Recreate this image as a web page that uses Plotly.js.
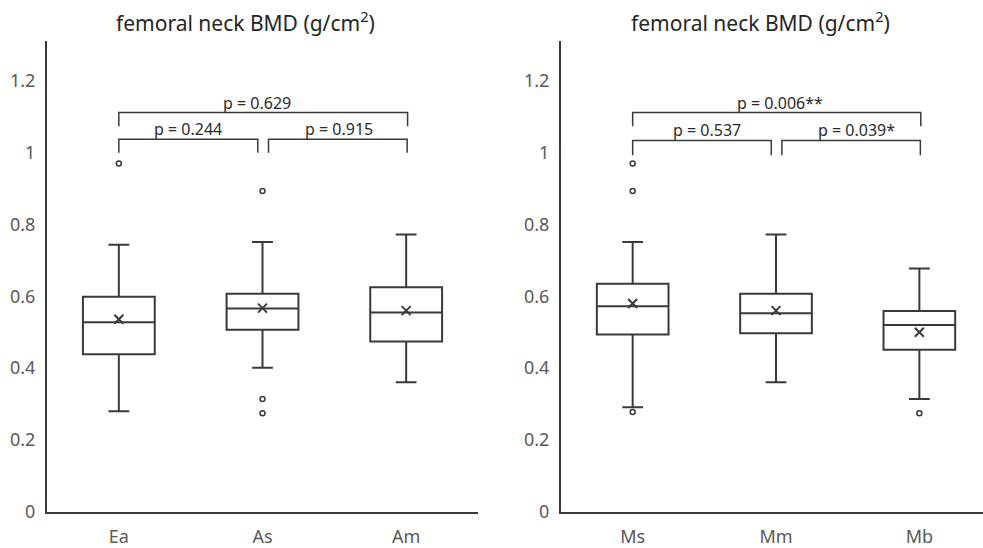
<!DOCTYPE html>
<html><head><meta charset="utf-8">
<script src="https://cdn.plot.ly/plotly-3.0.1.min.js"></script>
<style>html,body{margin:0;padding:0;background:#fff}#chart{width:983px;height:548px}</style>
</head><body><div id="chart"></div>
<script>
// ---- data ----
const leftCats   = ['Ea', 'As', 'Am'];
const leftLower  = [0.280, 0.401, 0.361];
const leftQ1     = [0.439, 0.507, 0.474];
const leftMedian = [0.528, 0.566, 0.555];
const leftQ3     = [0.599, 0.607, 0.625];
const leftUpper  = [0.743, 0.751, 0.772];
const leftMean   = [0.536, 0.567, 0.560];
const leftOutX   = [0, 1, 1, 1];
const leftOutY   = [0.969, 0.893, 0.314, 0.275];

const rightCats   = ['Ms', 'Mm', 'Mb'];
const rightLower  = [0.291, 0.361, 0.314];
const rightQ1     = [0.494, 0.497, 0.451];
const rightMedian = [0.572, 0.553, 0.520];
const rightQ3     = [0.635, 0.607, 0.559];
const rightUpper  = [0.751, 0.772, 0.677];
const rightMean   = [0.580, 0.560, 0.500];
const rightOutX   = [0, 0, 0, 2];
const rightOutY   = [0.969, 0.893, 0.278, 0.275];

// significance brackets: [x0, x1, yBar, yEnd]
const leftBrackets  = [[0, 2.01, 1.111, 1.073], [0, 0.967, 1.037, 0.999], [1.042, 2.007, 1.037, 0.999]];
const rightBrackets = [[0, 2.01, 1.111, 1.073], [0, 0.967, 1.033, 0.992], [1.041, 2.007, 1.033, 0.992]];
const leftPText  = ['p = 0.629', 'p = 0.244', 'p = 0.915'];
const leftPX     = [0.965, 0.482, 1.535];
const leftPY     = [1.138, 1.064, 1.064];
const rightPText = ['p = 0.006**', 'p = 0.537', 'p = 0.039*'];
const rightPX    = [1.03, 0.518, 1.56];
const rightPY    = [1.138, 1.062, 1.062];
const panelTitle = 'femoral neck BMD (g/cm<sup>2</sup>)';
const yTicks = [0, 0.2, 0.4, 0.6, 0.8, 1, 1.2];

// ---- styling ----
const LINE = '#3a3a3a';
const FONT = 'Noto Sans, sans-serif';
const positions = [0, 1, 2];

function boxTrace(xa, ya, lower, q1, med, q3, upper) {
  return {
    type: 'box', xaxis: xa, yaxis: ya, x: positions,
    lowerfence: lower, q1: q1, median: med, q3: q3, upperfence: upper,
    width: 0.5, whiskerwidth: 0.29, boxpoints: false,
    line: {color: LINE, width: 2}, fillcolor: 'rgba(255,255,255,0)',
    hoverinfo: 'skip', showlegend: false
  };
}
function meanTrace(xa, ya, mean) {
  return {type: 'scatter', mode: 'markers', xaxis: xa, yaxis: ya, x: positions, y: mean,
    marker: {symbol: 'x-thin-open', size: 9, color: LINE, line: {color: LINE, width: 2}},
    showlegend: false, hoverinfo: 'skip'};
}
function outTrace(xa, ya, ox, oy) {
  return {type: 'scatter', mode: 'markers', xaxis: xa, yaxis: ya, x: ox, y: oy,
    marker: {symbol: 'circle-open', size: 5, color: LINE, line: {color: LINE, width: 1.5}},
    showlegend: false, hoverinfo: 'skip'};
}
function bracketTraces(xa, ya, brs) {
  return brs.map(b => ({type: 'scatter', mode: 'lines', xaxis: xa, yaxis: ya,
    x: [b[0], b[0], b[1], b[1]], y: [b[3], b[2], b[2], b[3]],
    line: {color: LINE, width: 1.5}, showlegend: false, hoverinfo: 'skip'}));
}

const data = [
  boxTrace('x', 'y', leftLower, leftQ1, leftMedian, leftQ3, leftUpper),
  meanTrace('x', 'y', leftMean),
  outTrace('x', 'y', leftOutX, leftOutY),
  ...bracketTraces('x', 'y', leftBrackets),
  boxTrace('x2', 'y2', rightLower, rightQ1, rightMedian, rightQ3, rightUpper),
  meanTrace('x2', 'y2', rightMean),
  outTrace('x2', 'y2', rightOutX, rightOutY),
  ...bracketTraces('x2', 'y2', rightBrackets)
];

const pAnn = (xr, yr, texts, xs, ys) => texts.map((t, i) => ({
  xref: xr, yref: yr, x: xs[i], y: ys[i], text: t, showarrow: false,
  xanchor: 'center', yanchor: 'middle', font: {family: FONT, size: 16, color: '#2a2a2a'}
}));

const xBase = {
  showgrid: false, zeroline: false, showline: true, linecolor: LINE, linewidth: 2,
  ticks: '', tickvals: positions, tickfont: {family: FONT, size: 18, color: '#595959'},
  ticklabelstandoff: 7, fixedrange: true
};
const yBase = {
  showgrid: false, zeroline: false, showline: true, linecolor: LINE, linewidth: 2,
  ticks: '', tickvals: yTicks, ticktext: yTicks.map(String), range: [0, 1.31],
  tickfont: {family: FONT, size: 18, color: '#595959'}, ticklabelstandoff: 6, fixedrange: true
};

const layout = {
  width: 983, height: 548,
  margin: {l: 0, r: 0, t: 41, b: 36},
  paper_bgcolor: '#fff', plot_bgcolor: '#fff',
  showlegend: false,
  xaxis:  Object.assign({}, xBase, {domain: [47/983, 478/983], range: [-0.5, 2.5], ticktext: leftCats, anchor: 'y'}),
  yaxis:  Object.assign({}, yBase, {domain: [0, 1], anchor: 'x'}),
  xaxis2: Object.assign({}, xBase, {domain: [561/983, 1], range: [-0.5, 2.444], ticktext: rightCats, anchor: 'y2'}),
  yaxis2: Object.assign({}, yBase, {domain: [0, 1], anchor: 'x2'}),
  annotations: [
    {xref: 'paper', yref: 'paper', x: 246/983, y: 1, yshift: 20, text: panelTitle, showarrow: false,
     xanchor: 'center', yanchor: 'middle', font: {family: FONT, size: 21, color: '#262626'}},
    {xref: 'paper', yref: 'paper', x: 760/983, y: 1, yshift: 20, text: panelTitle, showarrow: false,
     xanchor: 'center', yanchor: 'middle', font: {family: FONT, size: 21, color: '#262626'}},
    ...pAnn('x', 'y', leftPText, leftPX, leftPY),
    ...pAnn('x2', 'y2', rightPText, rightPX, rightPY)
  ]
};

Plotly.newPlot('chart', data, layout, {displayModeBar: false, staticPlot: true});
</script></body></html>
